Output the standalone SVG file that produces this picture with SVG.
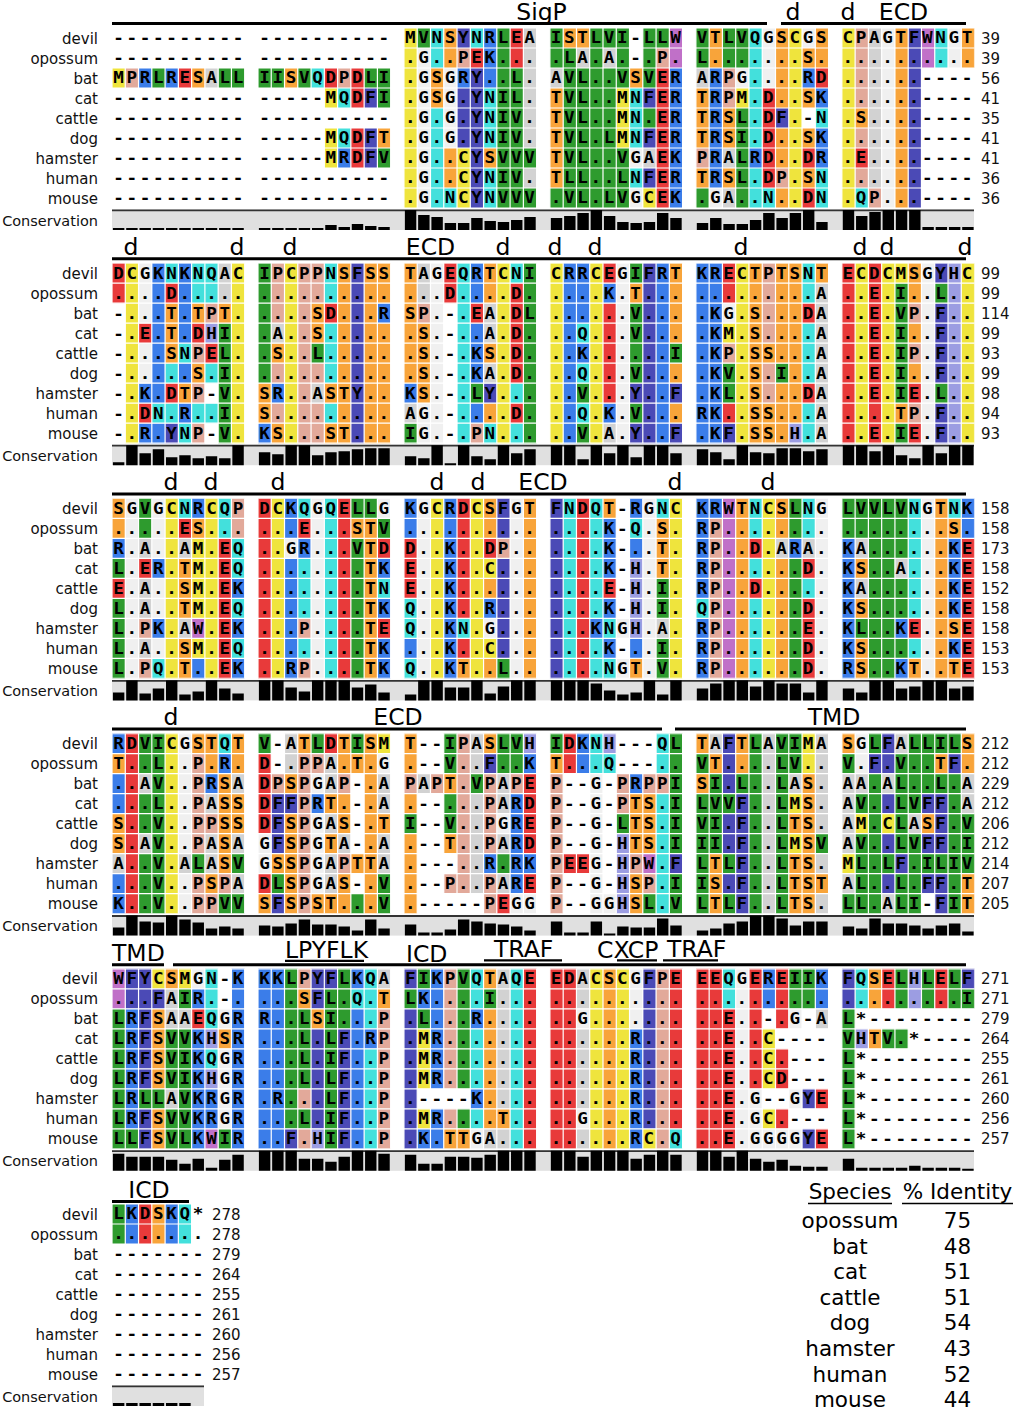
<svg xmlns="http://www.w3.org/2000/svg" xmlns:xlink="http://www.w3.org/1999/xlink" width="1016" height="1410" viewBox="0 0 1016 1410">
<style>
text{font-family:"DejaVu Sans","Liberation Sans",sans-serif;fill:#111}
.s text{font-family:"DejaVu Sans Mono","Liberation Mono",monospace;font-weight:bold;font-size:16px;letter-spacing:2.432px;fill:#000}
.n{font-size:15px;text-anchor:end}
.c{font-size:14.5px;text-anchor:end}
.k{font-size:15px}
.a{font-size:23.5px;text-anchor:middle;fill:#000}
.as{font-size:23.5px;fill:#000}
.t{font-size:21.5px;text-anchor:middle;fill:#000}
.L{stroke:#000;stroke-width:3;fill:none}
.u{stroke:#000;stroke-width:2.2;fill:none}
.Y{stroke:#efe43d}.G{stroke:#2e9b2e}.C{stroke:#43e0dc}.O{stroke:#f8a43a}.F{stroke:#4b4ab6}.B{stroke:#3b7de9}.R{stroke:#e83a3a}.P{stroke:#e2a99a}.A{stroke:#d2d2d2}.W{stroke:#f0f0f0}.V{stroke:#c070c8}.H{stroke:#9c9de2}
.gv{fill:none;stroke:#fff;stroke-width:9;stroke-dasharray:.09 .91;stroke-dashoffset:.045}
.gh{fill:none;stroke:#fff;stroke-width:65;stroke-dasharray:.06 .94;stroke-dashoffset:.03}
.cb{fill:#e0e0e0}
.ct{stroke:#333;stroke-width:1.8;fill:none}
.br{fill:none;stroke:#000;stroke-width:.86}
</style>
<defs>
<g id="gr"><path class="gv" d="M0 4.5h65"/><path class="gh" d="M32.5 0v9"/></g>
<g id="names" class="n">
<text x="-14" y="15.5">devil</text><text x="-14" y="35.5">opossum</text><text x="-14" y="55.5">bat</text><text x="-14" y="75.5">cat</text><text x="-14" y="95.5">cattle</text><text x="-14" y="115.5">dog</text><text x="-14" y="135.5">hamster</text><text x="-14" y="155.5">human</text><text x="-14" y="175.5">mouse</text>
<text class="c" x="-14" y="197.5">Conservation</text>
</g>
</defs>

<g id="block1" transform="translate(112,28)">
<g fill="none" stroke-width="1" transform="scale(13.27,20)">
<path class="Y" d="M.5 2v1M16.5 3v1M16.5 5v2M22.5 0v9M26.5 6v3M38.5 3v3M40.5 8v1M47.5 3v1M51.5 0v9M55.5 0v9"/>
<path class="G" d="M3.5 2v1M8.5 2v1M9.5 2v1M11.5 2v1M12.5 2v1M14.5 2v1M19.5 2v1M20.5 2v2M20.5 6v1M23.5 0v1M29.5 0v9M30.5 2v7M31.5 6v1M31.5 8v1M33.5 0v2M33.5 8v1M34.5 1v8M35.5 2v7M36.5 0v9M37.5 0v1M37.5 2v7M38.5 0v3M38.5 6v3M40.5 0v3M40.5 4v1M41.5 0v1M44.5 0v2M44.5 8v1M46.5 0v2M47.5 0v2M47.5 4v5"/>
<path class="C" d="M15.5 2v1M17.5 3v1M17.5 5v1M24.5 0v2M24.5 4v5M25.5 8v1M27.5 0v1M28.5 3v3M28.5 7v2M39.5 3v3M39.5 7v1M48.5 0v6M48.5 7v2M49.5 8v1M53.5 4v1M53.5 7v2M56.5 8v1M62.5 0v2"/>
<path class="O" d="M6.5 2v1M13.5 2v1M20.5 5v1M24.5 2v2M25.5 0v2M25.5 6v2M28.5 6v1M33.5 3v5M34.5 0v1M35.5 0v1M39.5 2v1M44.5 3v3M44.5 7v1M45.5 0v2M46.5 4v2M46.5 7v1M50.5 0v4M50.5 5v2M50.5 8v1M52.5 1v1M52.5 3v1M52.5 5v1M52.5 7v1M53.5 0v2M56.5 4v1M59.5 0v9M64.5 0v2"/>
<path class="F" d="M19.5 3v1M19.5 5v2M26.5 0v1M26.5 3v3M27.5 2v7M40.5 3v1M40.5 5v1M40.5 7v1M50.5 4v1M60.5 0v9"/>
<path class="B" d="M2.5 2v1M4.5 2v1M17.5 6v1M26.5 2v1M28.5 0v3M42.5 2v7M45.5 2v6M48.5 6v1M52.5 2v1M53.5 3v1M53.5 5v2"/>
<path class="R" d="M5.5 2v1M16.5 2v1M18.5 2v2M18.5 5v2M27.5 1v1M30.5 0v2M41.5 2v7M49.5 3v5M52.5 6v1M52.5 8v1M53.5 2v1M56.5 6v1"/>
<path class="P" d="M1.5 2v1M17.5 2v1M26.5 1v1M41.5 1v1M44.5 6v1M46.5 2v2M50.5 7v1M56.5 0v4M56.5 5v1M56.5 7v1M57.5 8v1"/>
<path class="A" d="M7.5 2v1M31.5 0v6M31.5 7v1M33.5 2v1M35.5 1v1M37.5 1v1M40.5 6v1M44.5 2v1M46.5 6v1M46.5 8v1M57.5 0v8"/>
<path class="W" d="M23.5 1v8M25.5 2v4M39.5 6v1M39.5 8v1M45.5 8v1M47.5 2v1M49.5 0v3M52.5 0v1M58.5 0v9M63.5 0v2"/>
<path class="V" d="M42.5 0v2M61.5 0v2"/>
<use href="#gr"/>
</g>
<g class="s" transform="scale(1.1,1)">
<text x="1.216" y="15.5">---------- ---------- MVNSYNRLEA ISTLVI-LLW VTLVQGSCGS CPAGTFWNGT</text>
<text x="1.216" y="35.5">---------- ---------- .G..PEK... .LA.A.-.P. L.......S. ..........</text>
<text x="1.216" y="55.5">MPRLRESALL IISVQDPDLI .GSGRY..L. AVL..VSVER ARPG....RD ......----</text>
<text x="1.216" y="75.5">---------- -----MQDFI .GSG.YNIL. TVL..MNFER TRPM.D..SK ......----</text>
<text x="1.216" y="95.5">---------- ---------- .G.G.YNIV. TVL..MN.ER TRSL.DF.-N .S....----</text>
<text x="1.216" y="115.5">---------- -----MQDFT .G.G.YNIV. TVL.LMNFER TRSI.D..SK ......----</text>
<text x="1.216" y="135.5">---------- -----MRDFV .G..CYSVVV TVL..VGAEK PRALRD..DR .E....----</text>
<text x="1.216" y="155.5">---------- ---------- .G..CYNIV. TLL..LNFER TRSL.DP.SN ......----</text>
<text x="1.216" y="175.5">---------- ---------- .G.NCYNVVV .VL.LVGCEK .GA..N..DN .QP...----</text>
</g>
<use href="#names"/>
<g class="k"><text x="869" y="15.5">39</text><text x="869" y="35.5">39</text><text x="869" y="55.5">56</text><text x="869" y="75.5">41</text><text x="869" y="95.5">35</text><text x="869" y="115.5">41</text><text x="869" y="135.5">41</text><text x="869" y="155.5">36</text><text x="869" y="175.5">36</text></g>
<path class="L" d="M0 -4.5H655M669 -4.5H854"/>
<text class="a" x="429.5" y="-8.5">SigP</text><text class="a" x="681" y="-8.5">d</text><text class="a" x="736" y="-8.5">d</text><text class="a" x="791.5" y="-8.5">ECD</text>
<rect class="cb" y="181.5" width="862" height="20.5"/><path class="ct" d="M0 182.4h862"/>
<g transform="translate(0,202) scale(13.27,1)"><path class="br" d="M.5 0v-2M1.5 0v-2M2.5 0v-2M3.5 0v-2M4.5 0v-2M5.5 0v-2M6.5 0v-2M7.5 0v-2M8.5 0v-2M9.5 0v-2M11.5 0v-2M12.5 0v-2M13.5 0v-2M14.5 0v-2M15.5 0v-2M16.5 0v-5M17.5 0v-3M18.5 0v-6M19.5 0v-4M20.5 0v-3M22.5 0v-20M23.5 0v-15M24.5 0v-13M25.5 0v-7M26.5 0v-7M27.5 0v-12M28.5 0v-9M29.5 0v-8M30.5 0v-10M31.5 0v-13M33.5 0v-12M34.5 0v-14M35.5 0v-17M36.5 0v-20M37.5 0v-14M38.5 0v-8M39.5 0v-7M40.5 0v-8M41.5 0v-17M42.5 0v-12M44.5 0v-7M45.5 0v-12M46.5 0v-6M47.5 0v-6M48.5 0v-10M49.5 0v-17M50.5 0v-12M51.5 0v-17M52.5 0v-20M53.5 0v-8M55.5 0v-20M56.5 0v-14M57.5 0v-18M58.5 0v-20M59.5 0v-20M60.5 0v-20M61.5 0v-3M62.5 0v-3M63.5 0v-3M64.5 0v-3"/></g>
</g>

<g id="block2" transform="translate(112,263.2)">
<g fill="none" stroke-width="1" transform="scale(13.27,20)">
<path class="Y" d="M1.5 0v9M9.5 0v9M13.5 0v9M29.5 0v9M33.5 0v9M36.5 0v9M46.5 3v1M47.5 0v9M56.5 0v9M58.5 0v9M59.5 0v1M64.5 0v9"/>
<path class="G" d="M8.5 3v6M11.5 0v6M15.5 4v1M22.5 8v1M27.5 6v1M31.5 0v9M35.5 6v1M35.5 8v1M39.5 0v1M39.5 2v4M39.5 7v1M42.5 4v1M46.5 5v2M50.5 5v1M59.5 1v6M59.5 8v1M62.5 1v1M62.5 6v1"/>
<path class="C" d="M3.5 7v1M4.5 0v1M4.5 5v1M4.5 7v1M5.5 4v1M5.5 8v1M6.5 0v2M6.5 7v1M7.5 0v2M7.5 5v1M7.5 7v1M16.5 0v2M16.5 3v3M16.5 7v1M26.5 0v9M28.5 8v1M30.5 0v1M30.5 6v1M30.5 8v1M35.5 3v1M35.5 5v1M35.5 7v1M52.5 0v2M52.5 3v3M52.5 7v2"/>
<path class="O" d="M4.5 2v3M5.5 6v1M6.5 2v1M6.5 5v1M8.5 2v1M11.5 6v2M12.5 4v1M12.5 8v1M15.5 2v2M16.5 6v1M16.5 8v1M17.5 0v9M19.5 0v9M20.5 0v2M20.5 3v6M22.5 0v6M23.5 3v4M28.5 0v2M28.5 4v1M28.5 7v1M39.5 1v1M42.5 0v4M42.5 5v1M42.5 7v1M48.5 0v9M49.5 4v1M49.5 7v2M50.5 0v5M50.5 6v3M51.5 0v8M53.5 0v1M59.5 7v1M60.5 0v2M60.5 3v1M60.5 5v1"/>
<path class="F" d="M4.5 8v1M18.5 0v9M28.5 6v1M39.5 6v1M39.5 8v1M40.5 0v9M42.5 6v1M42.5 8v1M46.5 8v1M62.5 0v1M62.5 2v4M62.5 7v2"/>
<path class="B" d="M2.5 6v1M2.5 8v1M3.5 0v7M3.5 8v1M5.5 0v4M5.5 5v1M5.5 7v1M11.5 8v1M12.5 6v1M20.5 2v1M22.5 6v1M27.5 0v2M27.5 3v3M27.5 7v1M34.5 0v9M35.5 0v3M35.5 4v1M37.5 1v1M37.5 7v1M41.5 0v9M44.5 0v9M45.5 0v9"/>
<path class="R" d="M.5 0v2M2.5 3v1M2.5 7v1M4.5 1v1M4.5 6v1M6.5 3v1M7.5 4v1M16.5 2v1M25.5 0v2M27.5 2v1M30.5 1v5M30.5 7v1M37.5 0v1M37.5 2v5M46.5 0v2M46.5 7v1M52.5 2v1M52.5 6v1M55.5 0v9M57.5 0v9M60.5 6v1M60.5 8v1"/>
<path class="P" d="M6.5 4v1M6.5 6v1M6.5 8v1M7.5 2v1M12.5 0v3M12.5 5v1M12.5 7v1M14.5 0v9M15.5 0v2M15.5 5v1M15.5 7v2M23.5 2v1M27.5 8v1M46.5 4v1M49.5 0v4M49.5 5v2M60.5 2v1M60.5 4v1M60.5 7v1"/>
<path class="A" d="M8.5 0v2M12.5 3v1M15.5 6v1M22.5 7v1M23.5 0v2M28.5 2v2M28.5 5v1M37.5 8v1M53.5 1v8"/>
<path class="W" d="M2.5 0v3M2.5 4v2M23.5 7v2M24.5 0v9M38.5 0v9M46.5 2v1M61.5 0v9"/>
<path class="H" d="M7.5 3v1M51.5 8v1M63.5 0v9"/>
<use href="#gr"/>
</g>
<g class="s" transform="scale(1.1,1)">
<text x="1.216" y="15.5">DCGKNKNQAC IPCPPNSFSS TAGEQRTCNI CRRCEGIFRT KRECTPTSNT ECDCMSGYHC</text>
<text x="1.216" y="35.5">....D..... .......... ...D....D. ....K.T... .........A ..E.I..L..</text>
<text x="1.216" y="55.5">-...T.TPT. ....SD...R SP.-.EA.DL ......V... .KG.S...DA ..E.VP.F..</text>
<text x="1.216" y="75.5">-.E.T.DHI. .A..S..... .S.-..A.D. ..Q...V... .KM.S....A ..E.I..F..</text>
<text x="1.216" y="95.5">-...SNPEL. .S..L..... .S.-.KS.D. ..K......I .KP.SS...A ..E.IP.F..</text>
<text x="1.216" y="115.5">-.....S.I. .......... .S.-.KA.D. ..Q...V... .KV.S.I..A ..E.I..F..</text>
<text x="1.216" y="135.5">-.K.DTP-V. SR..ASTY.. KS.-.LY... ..V...Y..F .KL.S...DA ..E.IE.L..</text>
<text x="1.216" y="155.5">-.DN.R..I. S......... AG.-....D. ..Q.K.V... RK..SS...A ....TP.F..</text>
<text x="1.216" y="175.5">-.R.YNP-V. KS...ST... IG.-.PN... ..V.A.Y..F .KF.SS.H.A ..E.IE.F..</text>
</g>
<use href="#names"/>
<g class="k"><text x="869" y="15.5">99</text><text x="869" y="35.5">99</text><text x="869" y="55.5">114</text><text x="869" y="75.5">99</text><text x="869" y="95.5">93</text><text x="869" y="115.5">99</text><text x="869" y="135.5">98</text><text x="869" y="155.5">94</text><text x="869" y="175.5">93</text></g>
<path class="L" d="M0 -4.5H854"/>
<text class="a" x="19" y="-8.5">d</text><text class="a" x="125" y="-8.5">d</text><text class="a" x="178" y="-8.5">d</text><text class="a" x="318.5" y="-8.5">ECD</text><text class="a" x="391" y="-8.5">d</text><text class="a" x="443" y="-8.5">d</text><text class="a" x="483" y="-8.5">d</text><text class="a" x="629" y="-8.5">d</text><text class="a" x="748" y="-8.5">d</text><text class="a" x="775" y="-8.5">d</text><text class="a" x="853" y="-8.5">d</text>
<rect class="cb" y="181.5" width="862" height="20.5"/><path class="ct" d="M0 182.4h862"/>
<g transform="translate(0,202) scale(13.27,1)"><path class="br" d="M.5 0v-3M1.5 0v-20M2.5 0v-12M3.5 0v-16M4.5 0v-8M5.5 0v-10M6.5 0v-7M7.5 0v-9M8.5 0v-7M9.5 0v-20M11.5 0v-13M12.5 0v-11M13.5 0v-20M14.5 0v-20M15.5 0v-10M16.5 0v-13M17.5 0v-14M18.5 0v-16M19.5 0v-17M20.5 0v-17M22.5 0v-9M23.5 0v-7M24.5 0v-20M25.5 0v-2M26.5 0v-20M27.5 0v-9M28.5 0v-6M29.5 0v-20M30.5 0v-12M31.5 0v-16M33.5 0v-20M34.5 0v-20M35.5 0v-6M36.5 0v-20M37.5 0v-12M38.5 0v-20M39.5 0v-8M40.5 0v-20M41.5 0v-20M42.5 0v-12M44.5 0v-16M45.5 0v-13M46.5 0v-6M47.5 0v-20M48.5 0v-13M49.5 0v-12M50.5 0v-17M51.5 0v-17M52.5 0v-14M53.5 0v-16M55.5 0v-20M56.5 0v-20M57.5 0v-14M58.5 0v-20M59.5 0v-10M60.5 0v-7M61.5 0v-20M62.5 0v-12M63.5 0v-20M64.5 0v-20"/></g>
</g>

<g id="block3" transform="translate(112,498.4)">
<g fill="none" stroke-width="1" transform="scale(13.27,20)">
<path class="Y" d="M4.5 0v9M6.5 2v4M6.5 7v1M7.5 0v9M12.5 0v9M24.5 0v9M27.5 0v9M28.5 3v1M28.5 7v1M42.5 0v9M49.5 0v9"/>
<path class="G" d="M.5 3v1M.5 5v4M2.5 0v2M18.5 0v1M18.5 2v7M19.5 0v1M20.5 1v1M29.5 8v1M41.5 4v2M41.5 7v2M51.5 0v2M51.5 3v6M55.5 0v2M56.5 0v2M56.5 6v1M57.5 0v9M58.5 0v9M59.5 0v3M59.5 4v2M59.5 7v1"/>
<path class="C" d="M3.5 8v1M5.5 0v1M8.5 0v2M9.5 2v2M9.5 5v1M9.5 7v1M14.5 0v1M14.5 3v3M14.5 7v1M16.5 0v9M20.5 4v1M22.5 5v2M22.5 8v1M26.5 6v1M34.5 0v9M36.5 0v6M36.5 7v2M37.5 6v1M37.5 8v1M39.5 1v1M41.5 0v1M44.5 5v1M48.5 0v2M48.5 3v1M48.5 5v4M52.5 0v2M52.5 4v1M60.5 0v6M60.5 7v1M63.5 0v1"/>
<path class="O" d="M.5 0v2M5.5 3v3M5.5 7v2M6.5 1v1M18.5 1v1M19.5 1v8M26.5 8v1M28.5 0v2M28.5 4v1M28.5 8v1M31.5 0v9M37.5 0v1M39.5 8v1M41.5 1v3M47.5 0v9M50.5 0v2M50.5 3v6M56.5 3v1M56.5 5v1M56.5 7v2M60.5 8v1M62.5 0v9M63.5 1v1M63.5 6v1M63.5 8v1"/>
<path class="F" d="M29.5 0v2M29.5 3v5M33.5 0v9"/>
<path class="B" d="M.5 2v1M3.5 3v1M3.5 6v1M6.5 0v1M6.5 8v1M9.5 4v1M9.5 6v1M9.5 8v1M13.5 0v2M13.5 3v6M14.5 2v1M20.5 3v1M20.5 5v1M20.5 7v2M22.5 0v2M22.5 7v1M25.5 0v9M28.5 5v1M36.5 6v1M37.5 1v3M37.5 5v1M37.5 7v1M39.5 0v1M39.5 2v1M39.5 7v1M44.5 0v5M44.5 6v3M45.5 0v1M51.5 2v1M55.5 2v7M59.5 6v1M59.5 8v1M63.5 2v4M63.5 7v1M64.5 0v2"/>
<path class="R" d="M.5 4v1M2.5 3v1M5.5 1v1M8.5 2v7M11.5 0v9M14.5 1v1M17.5 0v9M20.5 2v1M20.5 6v1M22.5 2v3M26.5 0v6M26.5 7v1M28.5 2v1M35.5 0v9M37.5 4v1M48.5 2v1M48.5 4v1M52.5 3v1M52.5 5v4M60.5 6v1M64.5 2v7"/>
<path class="P" d="M2.5 6v1M2.5 8v1M9.5 0v2M14.5 6v1M14.5 8v1M29.5 2v1M45.5 1v8"/>
<path class="A" d="M2.5 2v1M2.5 4v2M2.5 7v1M5.5 2v1M5.5 6v1M41.5 6v1M50.5 2v1M52.5 2v1M56.5 2v1M56.5 4v1M59.5 3v1"/>
<path class="W" d="M1.5 0v9M3.5 0v3M3.5 4v2M3.5 7v1M13.5 2v1M15.5 0v9M20.5 0v1M23.5 0v9M28.5 6v1M30.5 0v9M38.5 6v1M38.5 8v1M40.5 0v9M53.5 0v9M61.5 0v9"/>
<path class="V" d="M6.5 6v1M46.5 0v9"/>
<path class="H" d="M39.5 3v4"/>
<use href="#gr"/>
</g>
<g class="s" transform="scale(1.1,1)">
<text x="1.216" y="15.5">SGVGCNRCQP DCKQGQELLG KGCRDCSFGT FNDQT-RGNC KRWTNCSLNG LVVLVNGTNK</text>
<text x="1.216" y="35.5">.....ES... ...E...STV .......... ....K-Q.S. RP........ ........S.</text>
<text x="1.216" y="55.5">R.A..AM.EQ ..GR...VTD D..K..DP.. ....K-..T. RP..D.ARA. KA......KE</text>
<text x="1.216" y="75.5">L.ER.TM.EQ ........TK E..K..C... ....K-H.T. RP......D. KS..A...KE</text>
<text x="1.216" y="95.5">E.A..SM.EK ........TN E..K...... ....E-H.I. RP..D..... KA......KE</text>
<text x="1.216" y="115.5">L.A..TM.EQ ........TK Q..K..R... ....K-H.I. QP......D. KS......KE</text>
<text x="1.216" y="135.5">L.PK.AW.EK ...P....TE Q..KN.G... ...KNGH.A. RP......E. KL..KE..SE</text>
<text x="1.216" y="155.5">L.A..SM.EQ ........TK ...K..C... ....K-..I. RP......D. KS......KE</text>
<text x="1.216" y="175.5">L.PQ.T..EK ..RP....TK Q..KT..L.. ....NGT.V. RP......D. RS..KT..TE</text>
</g>
<use href="#names"/>
<g class="k"><text x="869" y="15.5">158</text><text x="869" y="35.5">158</text><text x="869" y="55.5">173</text><text x="869" y="75.5">158</text><text x="869" y="95.5">152</text><text x="869" y="115.5">158</text><text x="869" y="135.5">158</text><text x="869" y="155.5">153</text><text x="869" y="175.5">153</text></g>
<path class="L" d="M0 -4.5H854"/>
<text class="a" x="59" y="-8.5">d</text><text class="a" x="99" y="-8.5">d</text><text class="a" x="166" y="-8.5">d</text><text class="a" x="325" y="-8.5">d</text><text class="a" x="366" y="-8.5">d</text><text class="a" x="431" y="-8.5">ECD</text><text class="a" x="563" y="-8.5">d</text><text class="a" x="656" y="-8.5">d</text>
<rect class="cb" y="181.5" width="862" height="20.5"/><path class="ct" d="M0 182.4h862"/>
<g transform="translate(0,202) scale(13.27,1)"><path class="br" d="M.5 0v-8M1.5 0v-20M2.5 0v-7M3.5 0v-12M4.5 0v-20M5.5 0v-6M6.5 0v-9M7.5 0v-20M8.5 0v-12M9.5 0v-7M11.5 0v-20M12.5 0v-20M13.5 0v-13M14.5 0v-9M15.5 0v-20M16.5 0v-20M17.5 0v-20M18.5 0v-13M19.5 0v-16M20.5 0v-8M22.5 0v-6M23.5 0v-20M24.5 0v-20M25.5 0v-13M26.5 0v-13M27.5 0v-20M28.5 0v-7M29.5 0v-14M30.5 0v-20M31.5 0v-20M33.5 0v-20M34.5 0v-20M35.5 0v-20M36.5 0v-17M37.5 0v-10M38.5 0v-6M39.5 0v-8M40.5 0v-20M41.5 0v-6M42.5 0v-20M44.5 0v-12M45.5 0v-17M46.5 0v-20M47.5 0v-20M48.5 0v-14M49.5 0v-20M50.5 0v-17M51.5 0v-17M52.5 0v-8M53.5 0v-20M55.5 0v-12M56.5 0v-8M57.5 0v-20M58.5 0v-20M59.5 0v-12M60.5 0v-14M61.5 0v-20M62.5 0v-20M63.5 0v-12M64.5 0v-14"/></g>
</g>

<g id="block4" transform="translate(112,733.6)">
<g fill="none" stroke-width="1" transform="scale(13.27,20)">
<path class="Y" d="M4.5 0v9M20.5 0v1M51.5 3v1M51.5 5v1M52.5 0v2M55.5 6v1M56.5 4v1M58.5 4v1"/>
<path class="G" d="M2.5 0v2M2.5 3v2M2.5 6v3M3.5 0v9M6.5 6v1M8.5 8v1M9.5 6v1M9.5 8v1M11.5 0v1M12.5 7v1M15.5 0v1M18.5 0v1M18.5 8v1M20.5 7v2M22.5 4v1M25.5 0v2M25.5 3v2M27.5 2v1M29.5 0v2M29.5 6v1M30.5 0v2M33.5 0v1M38.5 4v1M40.5 8v1M42.5 0v6M42.5 7v2M44.5 1v1M44.5 3v6M45.5 2v4M46.5 3v1M46.5 6v1M46.5 8v1M47.5 2v1M48.5 0v9M50.5 0v9M51.5 0v2M53.5 5v1M55.5 1v1M55.5 8v1M56.5 3v1M56.5 5v4M57.5 0v1M57.5 2v7M58.5 6v1M59.5 1v5M59.5 7v2M60.5 0v4M60.5 5v4M61.5 0v3M61.5 6v1M62.5 0v1M62.5 2v1M62.5 6v1M63.5 0v1M63.5 2v7M64.5 4v3"/>
<path class="C" d="M8.5 0v1M36.5 0v2M37.5 1v1M41.5 0v2M41.5 3v6"/>
<path class="O" d="M.5 1v1M.5 4v2M6.5 0v1M7.5 0v2M7.5 7v1M8.5 2v5M9.5 0v2M9.5 3v2M11.5 8v1M12.5 6v1M13.5 2v1M13.5 4v5M14.5 0v1M15.5 8v1M16.5 3v1M16.5 5v1M16.5 8v1M17.5 0v2M17.5 3v2M17.5 7v2M18.5 1v1M18.5 6v1M19.5 0v9M20.5 4v1M22.5 0v2M22.5 3v1M22.5 5v4M25.5 2v1M25.5 5v1M28.5 0v1M33.5 1v1M39.5 3v3M39.5 7v2M40.5 3v3M44.5 0v1M44.5 2v1M45.5 1v1M45.5 6v3M47.5 0v2M51.5 4v1M51.5 6v3M52.5 2v7M53.5 7v1M55.5 0v1M61.5 4v1M62.5 1v1M64.5 0v2M64.5 7v2"/>
<path class="F" d="M12.5 3v3M12.5 8v1M13.5 3v1M28.5 1v1M42.5 6v1M46.5 0v3M46.5 4v2M46.5 7v1M47.5 3v6M57.5 1v1M58.5 0v2M58.5 3v1M58.5 5v1M58.5 7v1M59.5 6v1M61.5 3v1M61.5 5v1M61.5 7v1M62.5 3v3M62.5 7v2M63.5 1v1"/>
<path class="B" d="M.5 0v1M.5 2v2M.5 7v2M7.5 2v1M8.5 1v1M15.5 3v1M28.5 6v1M30.5 3v5M31.5 1v1M31.5 6v1M35.5 0v2M39.5 2v1"/>
<path class="R" d="M1.5 0v9M11.5 1v4M11.5 7v1M16.5 0v1M29.5 8v1M31.5 2v4M31.5 7v1M34.5 0v2M34.5 6v1M35.5 6v1"/>
<path class="P" d="M6.5 1v5M6.5 7v2M7.5 4v1M7.5 8v1M8.5 7v1M12.5 2v1M14.5 1v8M15.5 1v1M17.5 2v1M17.5 6v1M22.5 2v1M24.5 2v1M25.5 7v1M26.5 0v8M28.5 2v4M28.5 7v2M30.5 2v1M33.5 2v7M38.5 2v2M39.5 6v1M40.5 2v1M40.5 7v1M41.5 2v1"/>
<path class="A" d="M.5 6v1M2.5 2v1M2.5 5v1M5.5 6v1M7.5 3v1M7.5 5v2M9.5 2v1M9.5 5v1M9.5 7v1M13.5 0v2M16.5 1v2M16.5 4v1M16.5 6v2M17.5 5v1M20.5 2v2M20.5 5v2M23.5 2v1M27.5 0v2M27.5 3v5M29.5 2v2M29.5 5v1M29.5 7v1M45.5 0v1M49.5 0v9M51.5 2v1M53.5 0v5M53.5 6v1M53.5 8v1M55.5 2v4M55.5 7v1M56.5 2v1M58.5 2v1M58.5 8v1M59.5 0v1M60.5 4v1M64.5 2v2"/>
<path class="W" d="M5.5 0v6M5.5 7v2M11.5 5v2M15.5 2v1M15.5 4v4M20.5 1v1M29.5 4v1M30.5 8v1M31.5 8v1M36.5 2v7M37.5 8v1M56.5 0v2"/>
<path class="V" d="M40.5 6v1"/>
<path class="H" d="M31.5 0v1M37.5 0v1M38.5 5v4"/>
<use href="#gr"/>
</g>
<g class="s" transform="scale(1.1,1)">
<text x="1.216" y="15.5">RDVICGSTQT V-ATLDTISM T--IPASLVH IDKNH---QL TAFTLAVIMA SGLFALLILS</text>
<text x="1.216" y="35.5">T..L..P.R. D-.PPA.T.G .--V..F..K T...Q---.. VT....LV.. V.F.V..TF.</text>
<text x="1.216" y="55.5">..AV..PRSA DPSPGAP-.A PAPT.VPAPE P--G-PRPPI SI.L..LAS. AA.AL..L.A</text>
<text x="1.216" y="75.5">...L..PASS DFFPRT.-.A .--...PARD P--G-PTS.I LVVF..LMS. AV..LVFF.A</text>
<text x="1.216" y="95.5">S..V..PPSS DFSPGAS-.T I--V..PGRE P--G-LTS.I VI.F..LTS. AM.CLASF.V</text>
<text x="1.216" y="115.5">S.AV..PASA GFSPGTA-.A .--T..PARD P--G-HTS.I II.F..LMSV AV..LVFF.I</text>
<text x="1.216" y="135.5">A..V.ALASV GSSPGAPTTA .---..R.RK PEEG-HPW.F LTLF..LTS. ML.LF.ILIV</text>
<text x="1.216" y="155.5">...V..PSPA DLSPGAS-.V .--P..PARE P--G-HSP.I IS.F..LTST AL..L.FF.T</text>
<text x="1.216" y="175.5">K..V..PPVV SFSPST...V .-----PEGG P--GGHSL.V LTLF..LTS. LL.ALI-FIT</text>
</g>
<use href="#names"/>
<g class="k"><text x="869" y="15.5">212</text><text x="869" y="35.5">212</text><text x="869" y="55.5">229</text><text x="869" y="75.5">212</text><text x="869" y="95.5">206</text><text x="869" y="115.5">212</text><text x="869" y="135.5">214</text><text x="869" y="155.5">207</text><text x="869" y="175.5">205</text></g>
<path class="L" d="M0 -4.5H550M563 -4.5H854"/>
<text class="a" x="59" y="-8.5">d</text><text class="a" x="286" y="-8.5">ECD</text><text class="a" x="722" y="-8.5">TMD</text>
<rect class="cb" y="181.5" width="862" height="20.5"/><path class="ct" d="M0 182.4h862"/>
<g transform="translate(0,202) scale(13.27,1)"><path class="br" d="M.5 0v-8M1.5 0v-20M2.5 0v-14M3.5 0v-13M4.5 0v-20M5.5 0v-16M6.5 0v-13M7.5 0v-7M8.5 0v-9M9.5 0v-7M11.5 0v-10M12.5 0v-9M13.5 0v-12M14.5 0v-16M15.5 0v-11M16.5 0v-11M17.5 0v-9M18.5 0v-5M19.5 0v-16M20.5 0v-7M22.5 0v-11M23.5 0v-3M24.5 0v-3M25.5 0v-6M26.5 0v-16M27.5 0v-14M28.5 0v-12M29.5 0v-11M30.5 0v-9M31.5 0v-5M33.5 0v-14M34.5 0v-3M35.5 0v-3M36.5 0v-14M37.5 0v-2M38.5 0v-9M39.5 0v-8M40.5 0v-8M41.5 0v-17M42.5 0v-10M44.5 0v-5M45.5 0v-7M46.5 0v-12M47.5 0v-14M48.5 0v-20M49.5 0v-20M50.5 0v-17M51.5 0v-10M52.5 0v-14M53.5 0v-14M55.5 0v-9M56.5 0v-7M57.5 0v-17M58.5 0v-12M59.5 0v-12M60.5 0v-10M61.5 0v-7M62.5 0v-10M63.5 0v-12M64.5 0v-4"/></g>
</g>

<g id="block5" transform="translate(112,968.8)">
<g fill="none" stroke-width="1" transform="scale(13.27,20)">
<path class="Y" d="M3.5 0v1M5.5 0v1M23.5 3v3M23.5 7v1M36.5 0v9M38.5 0v9M40.5 8v1M49.5 3v3M49.5 7v1"/>
<path class="G" d="M.5 2v7M1.5 8v1M2.5 6v1M3.5 6v1M4.5 3v3M4.5 7v2M5.5 1v1M5.5 3v6M8.5 8v1M13.5 0v8M14.5 2v4M14.5 7v1M16.5 1v8M17.5 0v3M22.5 1v1M23.5 0v1M23.5 2v1M26.5 0v6M26.5 7v1M28.5 1v1M51.5 0v2M52.5 0v2M55.5 2v7M58.5 3v1M59.5 0v2M59.5 3v1M61.5 0v2M63.5 0v2M64.5 1v1"/>
<path class="C" d="M7.5 0v3M7.5 4v1M18.5 1v1M19.5 0v3M19.5 4v5M27.5 0v2M27.5 3v3M27.5 7v1M30.5 0v9M42.5 8v1M46.5 0v2M56.5 0v2"/>
<path class="O" d="M3.5 2v4M3.5 7v2M4.5 0v1M8.5 3v1M14.5 1v1M15.5 2v1M20.5 1v1M25.5 8v1M26.5 8v1M28.5 0v1M28.5 2v6M29.5 7v1M37.5 0v9M57.5 0v2M57.5 3v1"/>
<path class="F" d="M1.5 0v2M2.5 0v6M2.5 7v2M3.5 1v1M13.5 8v1M15.5 0v2M15.5 3v5M16.5 0v1M17.5 3v6M22.5 0v1M22.5 2v7M40.5 0v8M52.5 6v1M52.5 8v1M55.5 0v2M64.5 0v1"/>
<path class="B" d="M1.5 2v6M6.5 1v1M6.5 3v6M7.5 6v2M9.5 0v9M11.5 0v9M12.5 0v9M18.5 0v1M18.5 2v7M19.5 3v1M23.5 1v1M23.5 8v1M24.5 0v6M24.5 7v2M27.5 2v1M27.5 6v1M39.5 3v6M49.5 0v2M53.5 0v2"/>
<path class="R" d="M6.5 2v1M31.5 0v9M33.5 0v9M34.5 0v9M42.5 0v8M44.5 0v9M45.5 0v9M46.5 2v7M48.5 0v6M50.5 0v3M50.5 4v2M50.5 7v1M53.5 6v1M53.5 8v1M58.5 0v2M62.5 0v2"/>
<path class="P" d="M14.5 0v1M14.5 6v1M14.5 8v1M20.5 2v7M25.5 0v6M25.5 7v1M41.5 0v9"/>
<path class="A" d="M4.5 1v2M4.5 6v1M5.5 2v1M20.5 0v1M28.5 8v1M29.5 0v7M29.5 8v1M35.5 0v2M35.5 3v4M35.5 8v1M53.5 2v1"/>
<path class="W" d="M6.5 0v1M8.5 2v1M8.5 4v4M27.5 8v1M35.5 2v1M35.5 7v1M39.5 0v3M47.5 0v9M48.5 6v3M49.5 8v1M50.5 8v1M51.5 2v1M51.5 6v1M51.5 8v1"/>
<path class="V" d="M.5 0v2M7.5 8v1"/>
<path class="H" d="M7.5 3v1M7.5 5v1M15.5 8v1M56.5 3v1M60.5 0v2"/>
<use href="#gr"/>
</g>
<g class="s" transform="scale(1.1,1)">
<text x="1.216" y="15.5">WFYCSMGN-K KKLPYFLKQA FIKPVQTAQE EDACSCGFPE EEQGEREIIK FQSELHLELF</text>
<text x="1.216" y="35.5">...FAIR.-. ...SFL.Q.T LK....I... .......... .......... .........I</text>
<text x="1.216" y="55.5">LRFSAAEQGR R..LSI...P .L...R.... ..G....... ..E..-.G-A L*--------</text>
<text x="1.216" y="75.5">LRFSVVKHSR ...L.LF.RP .MR....... ......R... ..E..C---- VHTV.*----</text>
<text x="1.216" y="95.5">LRFSVIKQGR ...L.IF..P .MR....... ......R... ..E..C.--- L*--------</text>
<text x="1.216" y="115.5">LRFSVIKHGR ...L.LF..P .MR....... ......R... ..E..CD--- L*--------</text>
<text x="1.216" y="135.5">LRLLAVKRGR .R...LF..P .----K.... ......R... ..E.G--GYE L*--------</text>
<text x="1.216" y="155.5">LRFSVVKRGR ...L.IF..P .MR....T.. ..G...R... ..E.GC.--- L*--------</text>
<text x="1.216" y="175.5">LLFSVLKWIR ..F.HIF..P .K.TTGA... ......RC.Q ..E.GGGGYE L*--------</text>
</g>
<use href="#names"/>
<g class="k"><text x="869" y="15.5">271</text><text x="869" y="35.5">271</text><text x="869" y="55.5">279</text><text x="869" y="75.5">264</text><text x="869" y="95.5">255</text><text x="869" y="115.5">261</text><text x="869" y="135.5">260</text><text x="869" y="155.5">256</text><text x="869" y="175.5">257</text></g>
<path class="L" d="M0 -4H52M61 -4H854"/>
<path class="u" d="M173 -8H252M372 -8.5H450M505 -8.5H545M551 -8.5H606"/>
<text class="as" x="0" y="-7.5">TMD</text><text class="as" x="173" y="-11">LPYFLK</text><text class="as" x="294" y="-6.5">ICD</text><text class="as" x="382" y="-12">TRAF</text><text class="as" x="485" y="-11">CXCP</text><text class="as" x="555" y="-12">TRAF</text>
<rect class="cb" y="181.5" width="862" height="20.5"/><path class="ct" d="M0 182.4h862"/>
<g transform="translate(0,202) scale(13.27,1)"><path class="br" d="M.5 0v-17M1.5 0v-14M2.5 0v-14M3.5 0v-14M4.5 0v-11M5.5 0v-7M6.5 0v-12M7.5 0v-3M8.5 0v-11M9.5 0v-16M11.5 0v-20M12.5 0v-20M13.5 0v-20M14.5 0v-12M15.5 0v-12M16.5 0v-9M17.5 0v-14M18.5 0v-20M19.5 0v-20M20.5 0v-17M22.5 0v-16M23.5 0v-7M24.5 0v-7M25.5 0v-14M26.5 0v-14M27.5 0v-13M28.5 0v-16M29.5 0v-20M30.5 0v-20M31.5 0v-20M33.5 0v-20M34.5 0v-20M35.5 0v-14M36.5 0v-20M37.5 0v-20M38.5 0v-20M39.5 0v-12M40.5 0v-16M41.5 0v-20M42.5 0v-16M44.5 0v-20M45.5 0v-20M46.5 0v-14M47.5 0v-20M48.5 0v-12M49.5 0v-9M50.5 0v-11M51.5 0v-5M52.5 0v-4M53.5 0v-4M55.5 0v-12M56.5 0v-3M57.5 0v-3M58.5 0v-3M59.5 0v-3M60.5 0v-5M61.5 0v-3M62.5 0v-3M63.5 0v-3M64.5 0v-2"/></g>
</g>

<g id="block6" transform="translate(112,1204)">
<g fill="none" stroke-width="1" transform="scale(13.27,20)">
<path class="G" d="M.5 0v2"/><path class="B" d="M1.5 0v2M4.5 0v2"/><path class="R" d="M2.5 0v2"/><path class="O" d="M3.5 0v2"/><path class="C" d="M5.5 0v2"/>
<use href="#gr"/>
</g>
<g class="s" transform="scale(1.1,1)">
<text x="1.216" y="15.5">LKDSKQ*</text><text x="1.216" y="35.5">.......</text><text x="1.216" y="55.5">-------</text><text x="1.216" y="75.5">-------</text><text x="1.216" y="95.5">-------</text><text x="1.216" y="115.5">-------</text><text x="1.216" y="135.5">-------</text><text x="1.216" y="155.5">-------</text><text x="1.216" y="175.5">-------</text>
</g>
<use href="#names"/>
<g class="k"><text x="100" y="15.5">278</text><text x="100" y="35.5">278</text><text x="100" y="55.5">279</text><text x="100" y="75.5">264</text><text x="100" y="95.5">255</text><text x="100" y="115.5">261</text><text x="100" y="135.5">260</text><text x="100" y="155.5">256</text><text x="100" y="175.5">257</text></g>
<path class="L" d="M0 -2.5H77"/>
<text class="a" x="37" y="-6">ICD</text>
<rect class="cb" y="181.5" width="92" height="20.5"/><path class="ct" d="M0 182.4h92"/>
<g transform="translate(0,202) scale(13.27,1)"><path class="br" d="M.5 0v-3M1.5 0v-3M2.5 0v-3M3.5 0v-3M4.5 0v-3M5.5 0v-3"/></g>
</g>

<g id="identity">
<text class="t" x="850" y="1199">Species</text><text class="t" x="957.5" y="1199">% Identity</text>
<path stroke="#000" stroke-width="1.6" d="M808 1203.5H892M902 1203.5H1013"/>
<text class="t" x="850" y="1228">opossum</text><text class="t" x="957.5" y="1228">75</text>
<text class="t" x="850" y="1253.6">bat</text><text class="t" x="957.5" y="1253.6">48</text>
<text class="t" x="850" y="1279.2">cat</text><text class="t" x="957.5" y="1279.2">51</text>
<text class="t" x="850" y="1304.8">cattle</text><text class="t" x="957.5" y="1304.8">51</text>
<text class="t" x="850" y="1330.4">dog</text><text class="t" x="957.5" y="1330.4">54</text>
<text class="t" x="850" y="1356">hamster</text><text class="t" x="957.5" y="1356">43</text>
<text class="t" x="850" y="1381.6">human</text><text class="t" x="957.5" y="1381.6">52</text>
<text class="t" x="850" y="1407.2">mouse</text><text class="t" x="957.5" y="1407.2">44</text>
</g>
</svg>
